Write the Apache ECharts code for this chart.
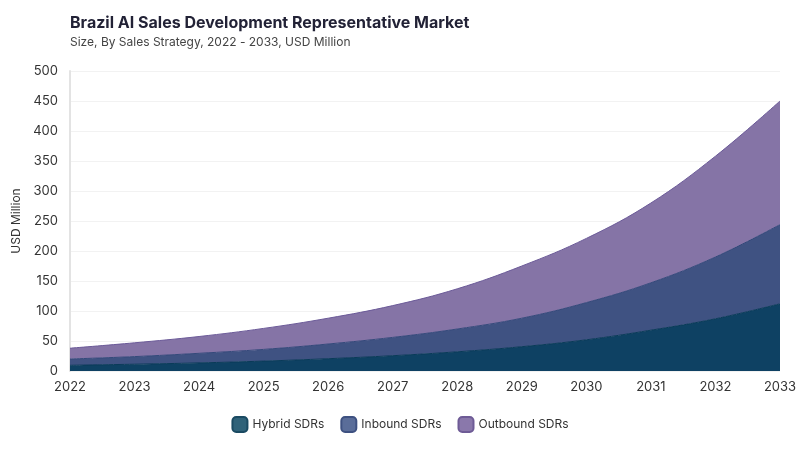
<!DOCTYPE html>
<html>
<head>
<meta charset="utf-8">
<script src="https://cdn.jsdelivr.net/npm/echarts@6/dist/echarts.min.js"></script>
<style>html,body{margin:0;padding:0;background:#fff}#c{width:800px;height:450px}</style>
</head>
<body>
<div id="c"></div>
<script>
const years = ['2022','2023','2024','2025','2026','2027','2028','2029','2030','2031','2032','2033'];
const hybrid = [9.5, 11.3, 13.5, 16.5, 20.5, 25.5, 32, 40.5, 52, 68, 87, 112];
const inbound = [10.5, 12.7, 16, 19.5, 24.5, 30.5, 38, 47.5, 62, 79, 103, 132];
const outbound = [18, 23, 28, 35, 43, 53, 67, 87, 107, 133, 168, 206];
const seriesNames = ['Hybrid SDRs','Inbound SDRs','Outbound SDRs'];
const yTicks = [0, 50, 100, 150, 200, 250, 300, 350, 400, 450, 500];

const font = 'Inter, "Noto Sans", sans-serif';
const chart = echarts.init(document.getElementById('c'), null, {renderer:'canvas'});
function mk(name, data, area, line, legendFill, legendBorder) {
  return {
    name, type:'line', stack:'total', data, smooth:0.4, symbol:'none',
    lineStyle:{color:line, width:1},
    areaStyle:{color:area, opacity:1},
    itemStyle:{color:legendFill, borderColor:legendBorder, borderWidth:1.5}
  };
}
chart.setOption({
  animation:false,
  textStyle:{fontFamily:font},
  title:{
    text:'Brazil AI Sales Development Representative Market',
    subtext:'Size, By Sales Strategy, 2022 - 2033, USD Million',
    left:65, top:10, itemGap:5,
    textStyle:{fontSize:16, fontWeight:'bold', color:'#222236', fontFamily:font},
    subtextStyle:{fontSize:12, color:'#444', fontFamily:font}
  },
  legend:{
    bottom:12, left:'center', itemWidth:15, itemHeight:15, itemGap:16,
    icon:'roundRect',
    textStyle:{fontSize:12, color:'#333', fontFamily:font},
    data:seriesNames
  },
  grid:{left:70, right:20, top:71, bottom:79},
  xAxis:{
    type:'category', data:years, boundaryGap:false,
    axisLine:{show:false}, axisTick:{show:false},
    axisLabel:{fontSize:13, color:'#333', margin:10, fontFamily:font}
  },
  yAxis:{
    type:'value', min:yTicks[0], max:yTicks[yTicks.length-1], interval:yTicks[1]-yTicks[0],
    name:'USD Million', nameLocation:'middle', nameGap:38, nameRotate:90,
    nameTextStyle:{fontSize:12, color:'#333', fontFamily:font},
    axisLine:{show:true, lineStyle:{color:'#e3e3e3', width:2}},
    axisTick:{show:false},
    axisLabel:{fontSize:13, color:'#333', margin:12, fontFamily:font},
    splitLine:{lineStyle:{color:'#f2f2f2', width:1}}
  },
  series:[
    mk(seriesNames[0], hybrid, '#0e4163', '#093a58', '#2f6279', '#1a4a62'),
    mk(seriesNames[1], inbound, '#3f5282', '#34487a', '#5a6d99', '#3e5181'),
    mk(seriesNames[2], outbound, '#8574a6', '#6b5a98', '#8a78ab', '#6e5b96')
  ]
});
</script>
</body>
</html>
